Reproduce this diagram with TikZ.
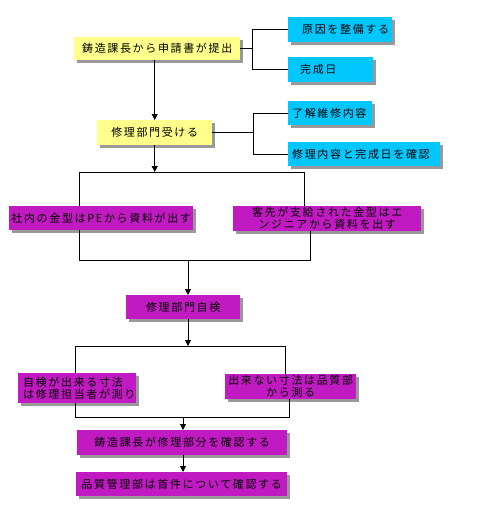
\documentclass[tikz,border=0pt]{standalone}
\usepackage{fontspec}
\setmainfont[LetterSpace=15]{Noto Sans CJK JP}
\usetikzlibrary{arrows.meta,shadows}
\definecolor{ylw}{RGB}{255,255,140}
\definecolor{cyn}{RGB}{0,200,255}
\definecolor{mgt}{RGB}{194,26,194}
\tikzset{
  box/.style={rectangle, anchor=north west, inner sep=0pt, font=\fontsize{11}{12}\selectfont,
    drop shadow={shadow xshift=3pt, shadow yshift=-3pt, fill=black, opacity=0.4}},
  ybox/.style={box, fill=ylw},
  cbox/.style={box, fill=cyn},
  mbox/.style={box, fill=mgt, align=center},
  txt/.style={anchor=west, inner sep=0pt, font=\fontsize{11}{12}\selectfont, align=left},
  ln/.style={line width=0.9pt, black},
  arr/.style={ln, -{Triangle[length=6pt,width=6pt]}}
}
\begin{document}
\begin{tikzpicture}[x=1pt,y=-1pt]
\useasboundingbox (0,0) rectangle (500,520);
% yellow boxes
\node[ybox, minimum width=166pt, minimum height=23pt] (b1) at (74,37) {鋳造課長から申請書が提出};
\node[ybox, minimum width=115pt, minimum height=25pt] (b2) at (97,120) {修理部門受ける};
% cyan boxes
\node[cbox, minimum width=104pt, minimum height=25pt] (c1) at (288,17) {};
\node[txt] (c1t) at ([xshift=14pt]c1.west) {原因を整備する};
\node[cbox, minimum width=85pt, minimum height=25pt] (c2) at (288,57) {};
\node[txt] (c2t) at ([xshift=12pt]c2.west) {完成日};
\node[cbox, minimum width=84pt, minimum height=24pt] (c3) at (288,101) {};
\node[txt] (c3t) at ([xshift=4pt]c3.west) {了解維修内容};
\node[cbox, minimum width=152pt, minimum height=24pt] (c4) at (288,142) {};
\node[txt] (c4t) at ([xshift=4pt]c4.west) {修理内容と完成日を確認};
% magenta boxes
\node[mbox, minimum width=184pt, minimum height=24pt] (m1) at (9,206) {社内の金型はPEから資料が出す};
\node[mbox, minimum width=188pt, minimum height=25pt] (m2) at (233,206) {客先が支給された金型はエ\\ンジニアから資料を出す};
\node[mbox, minimum width=114pt, minimum height=24pt] (m3) at (126,295) {修理部門自検};
\node[mbox, minimum width=118pt, minimum height=30pt] (m4) at (18,373) {};
\node[txt] (m4t) at ([xshift=5pt]m4.west) {自検が出来る寸法\\は修理担当者が測り};
\node[mbox, minimum width=131pt, minimum height=25pt] (m5) at (225,374) {出来ない寸法は品質部\\から測る};
\node[mbox, minimum width=210pt, minimum height=25pt] (m6) at (77,430) {鋳造課長が修理部分を確認する};
\node[mbox, minimum width=211pt, minimum height=24pt] (m7) at (76,472) {品質管理部は首件について確認する};
% coordinates
\coordinate (j1) at ([xshift=12pt]b1.east);
\coordinate (j2) at ([xshift=41pt]b2.east);
\coordinate (r1tl) at (79,172);
\coordinate (r1tr) at (304,172);
\coordinate (r1bl) at (79,260);
\coordinate (r1br) at (310,260);
\coordinate (r1bm) at (188,260);
\coordinate (r2tl) at (75,346);
\coordinate (r2tr) at (285,346);
\coordinate (r2bl) at (75,417);
\coordinate (r2br) at (289,417);
\coordinate (r2bm) at (183,417);
\coordinate (a3) at (188,319);
% connectors
\draw[ln] (b1.east) -- (j1);
\draw[ln] (c1.west) -| (j1) |- (c2.west);
\draw[ln] (b2.east) -- (j2);
\draw[ln] (c3.west) -| (j2) |- (c4.west);
\draw[arr] (b1.south -| b2.north) -- (b2.north);
\draw[arr] (b2.south) -- (b2.south |- r1tl);
\draw[ln] (m1.north -| r1tl) -- (r1tl) -- (r1tr) -- (m2.north -| r1tr);
\draw[ln] (m1.south -| r1bl) -- (r1bl) -- (r1br) -- (m2.south -| r1br);
\draw[arr] (r1bm) -- (r1bm |- m3.north);
\draw[arr] (a3) -- (a3 |- r2tl);
\draw[ln] (m4.north -| r2tl) -- (r2tl) -- (r2tr) -- (m5.north -| r2tr);
\draw[ln] (m4.south -| r2bl) -- (r2bl) -- (r2br) -- (m5.south -| r2br);
\draw[arr] (r2bm) -- (r2bm |- m6.north);
\draw[arr] (m6.south -| r2bm) -- (r2bm |- m7.north);
\end{tikzpicture}
\end{document}
